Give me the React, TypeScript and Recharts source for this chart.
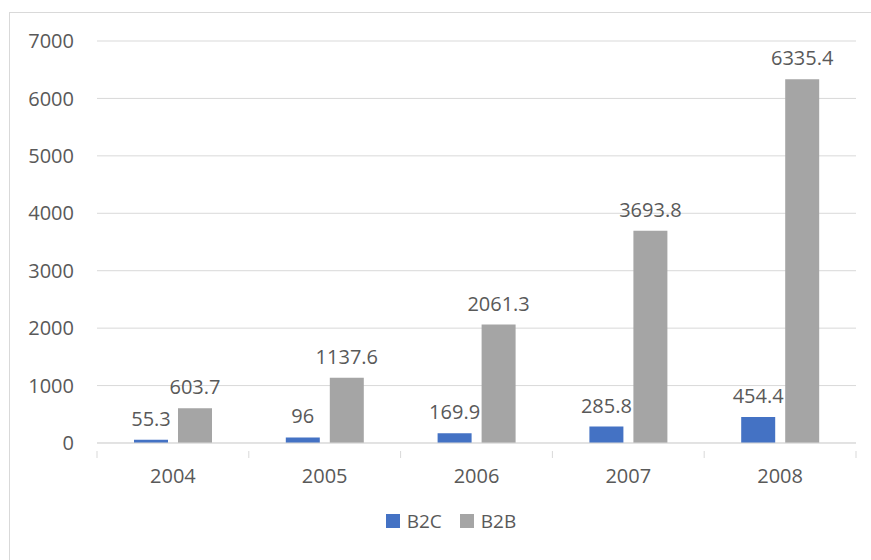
import { BarChart, Bar, XAxis, YAxis, CartesianGrid, Legend, LabelList } from 'recharts';

const years = ['2004', '2005', '2006', '2007', '2008'];
const b2c = [55.3, 96, 169.9, 285.8, 454.4];
const b2b = [603.7, 1137.6, 2061.3, 3693.8, 6335.4];
const yTicks = [0, 1000, 2000, 3000, 4000, 5000, 6000, 7000];
const seriesNames = ['B2C', 'B2B'];
const seriesColors = ['#4472C4', '#A5A5A5'];

const data = years.map((year, i) => ({ year, B2C: b2c[i], B2B: b2b[i] }));

const FONT = '"Open Sans", sans-serif';
const TEXT = '#595959';
const GRID = '#d9d9d9';
const HALF_BAND = (871 - 97 - 15) / years.length / 2;

function YearTick(props: any) {
  const { x, y, payload, index } = props;
  return (
    <g>
      <line x1={x - HALF_BAND} x2={x - HALF_BAND} y1={y} y2={y + 7} stroke={GRID} />
      {index === years.length - 1 && (
        <line x1={x + HALF_BAND} x2={x + HALF_BAND} y1={y} y2={y + 7} stroke={GRID} />
      )}
      <text x={x} y={y + 32} textAnchor="middle" fill={TEXT} fontSize={20} fontFamily={FONT}>
        {payload.value}
      </text>
    </g>
  );
}

function LegendBox() {
  return (
    <div style={{ display: 'flex', justifyContent: 'center', alignItems: 'center', gap: 18, fontFamily: FONT, fontSize: 19, color: TEXT, paddingLeft: 46 }}>
      {seriesNames.map((name, i) => (
        <span key={name} style={{ display: 'flex', alignItems: 'center', gap: 7 }}>
          <span style={{ width: 14, height: 14, background: seriesColors[i], display: 'inline-block' }} />
          {name}
        </span>
      ))}
    </div>
  );
}

export default function App() {
  return (
    <div style={{ position: 'absolute', left: 0, top: 0, width: 871, height: 560, overflow: 'hidden', background: '#fff' }}>
      <div style={{ position: 'absolute', left: 9, top: 12, width: 900, height: 600, border: `1px solid ${GRID}` }} />
      <div style={{ position: 'absolute', left: 0, top: 0 }}>
        <BarChart width={871} height={560} data={data} margin={{ top: 41, right: 15, left: 0, bottom: 26 }} barGap={10}>
          <CartesianGrid vertical={false} stroke={GRID} />
          <XAxis
            dataKey="year"
            height={65}
            stroke={GRID}
            tickLine={false}
            tick={<YearTick />}
            interval={0}
          />
          <YAxis
            width={97}
            domain={[0, 7000]}
            ticks={yTicks}
            axisLine={false}
            tickLine={false}
            tickSize={0}
            tickMargin={23}
            tick={{ fill: TEXT, fontSize: 20, fontFamily: FONT }}
          />
          <Legend verticalAlign="bottom" content={() => <LegendBox />} />
          <Bar dataKey="B2C" fill={seriesColors[0]} barSize={34} isAnimationActive={false}>
            <LabelList dataKey="B2C" position="top" offset={14} fill={TEXT} fontSize={20} fontFamily={FONT} />
          </Bar>
          <Bar dataKey="B2B" fill={seriesColors[1]} barSize={34} isAnimationActive={false}>
            <LabelList dataKey="B2B" position="top" offset={14} fill={TEXT} fontSize={20} fontFamily={FONT} />
          </Bar>
        </BarChart>
      </div>
    </div>
  );
}
